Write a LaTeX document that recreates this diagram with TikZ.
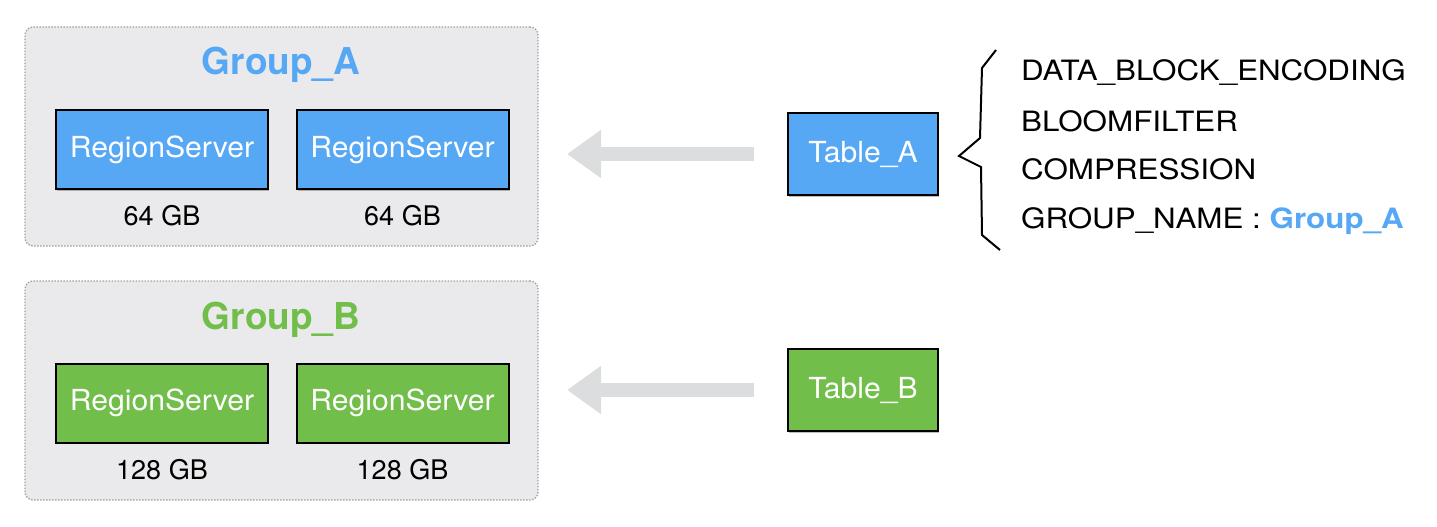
\documentclass[tikz,border=0pt]{standalone}
\usepackage{fontspec}
\setmainfont{TeX Gyre Heros}
\newfontfamily\widefont{TeX Gyre Heros}[FakeStretch=1.12]
\newfontfamily\boxfont{TeX Gyre Heros}[FakeStretch=1.04]
\usetikzlibrary{arrows.meta,shadows}
\definecolor{cblue}{RGB}{86,168,245}
\definecolor{cgreen}{RGB}{114,190,74}
\definecolor{cgroup}{RGB}{234,234,236}
\definecolor{cborder}{RGB}{160,160,160}
\definecolor{carrow}{RGB}{220,221,223}
\begin{document}
\begin{tikzpicture}[x=1pt,y=-1pt,
  groupbox/.style={draw=cborder, fill=cgroup, rounded corners=8pt, line width=1.3pt,
    dash pattern=on 1.5pt off 1.5pt, minimum width=513pt, minimum height=219pt, inner sep=0pt},
  boxbase/.style={draw=black, line width=2pt, text=white, inner sep=0pt,
    font=\boxfont\fontsize{29}{31}\selectfont,
    drop shadow={opacity=0.25, shadow xshift=1pt, shadow yshift=-1.5pt, fill=black}},
  serverbox/.style={boxbase, minimum width=212pt, minimum height=79pt},
  tablebox/.style={boxbase, minimum width=150pt, minimum height=82pt},
  titletext/.style={font=\fontsize{37}{40}\selectfont\bfseries, inner sep=0pt},
  sizetext/.style={font=\fontsize{27}{30}\selectfont, inner sep=0pt},
  listtext/.style={font=\widefont\fontsize{28}{30}\selectfont, inner sep=0pt, anchor=base west},
  bigarrow/.style={draw=carrow, line width=14pt, -{Triangle[width=46pt,length=34pt]}},
  bracestyle/.style={draw=black, line width=2pt, line join=miter}
]
\useasboundingbox (0,0) rectangle (1437,527);

% groups
\node[groupbox] (gA) at (281.5,136.5) {};
\node[groupbox] (gB) at (281.5,390.5) {};
\node[titletext, text=cblue] (tgA) at (281,65) {Group\_A};
\node[titletext, text=cgreen] (tgB) at (281,320) {Group\_B};

% servers
\node[serverbox, fill=cblue] (sA1) at (162,149.5) {RegionServer};
\node[serverbox, fill=cblue] (sA2) at (402.5,149.5) {RegionServer};
\node[serverbox, fill=cgreen] (sB1) at (162,403) {RegionServer};
\node[serverbox, fill=cgreen] (sB2) at (402.5,403) {RegionServer};

\node[sizetext] (mA1) at (162,216) {64 GB};
\node[sizetext] (mA2) at (402.5,216) {64 GB};
\node[sizetext] (mB1) at (162,470) {128 GB};
\node[sizetext] (mB2) at (402.5,470) {128 GB};

% tables
\node[tablebox, fill=cblue] (tA) at (863,154) {Table\_A};
\node[tablebox, fill=cgreen] (tB) at (863,390) {Table\_B};

% arrows
\coordinate (aAs) at ([xshift=-33pt]tA.west);
\coordinate (aAe) at ([xshift=-220pt]tA.west);
\coordinate (aBs) at ([xshift=-33pt]tB.west);
\coordinate (aBe) at ([xshift=-220pt]tB.west);
\draw[bigarrow] (aAs) -- (aAe);
\draw[bigarrow] (aBs) -- (aBe);

% brace
\draw[bracestyle] (996,50) -- (982,68) -- (980,138) -- (959,156) -- (981,167) -- (982,235) -- (1000,250);

% list
\node[listtext] (l1) at (1021,81) {DATA\_BLOCK\_ENCODING};
\node[listtext] (l2) at (1021,131.5) {BLOOMFILTER};
\node[listtext] (l3) at (1021,179) {COMPRESSION};
\node[listtext] (l4) at (1021,228) {GROUP\_NAME : \textcolor{cblue}{\bfseries Group\_A}};
\end{tikzpicture}
\end{document}
